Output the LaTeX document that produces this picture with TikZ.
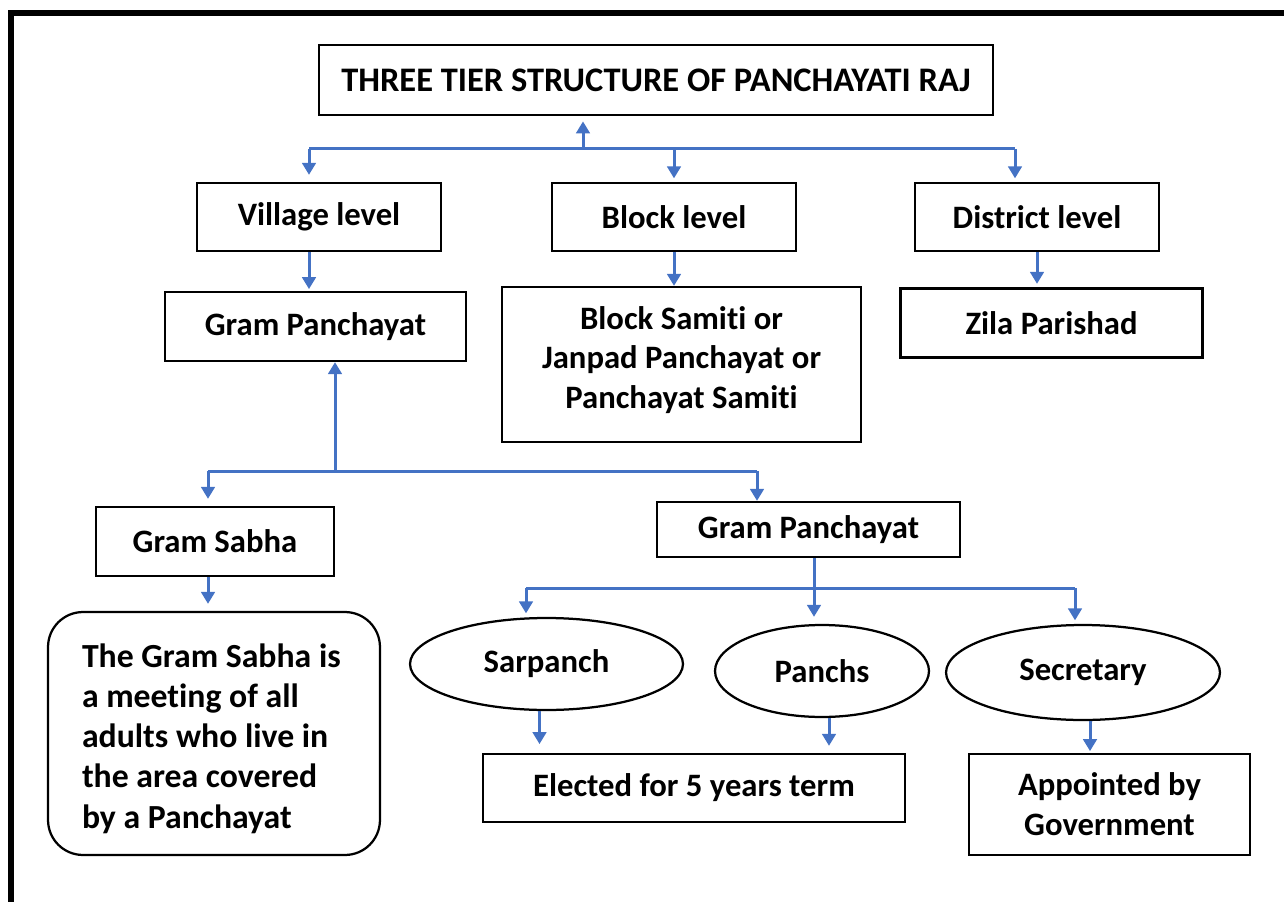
\documentclass[tikz,border=0pt]{standalone}
\usepackage{fontspec}
\setmainfont{Carlito}[Ligatures=NoCommon]
\usetikzlibrary{arrows.meta,shapes.geometric}
\definecolor{arrowblue}{RGB}{68,114,196}
\tikzset{
	box/.style={draw, line width=0.045cm, align=center, inner sep=0pt, font=\fontsize{18.6}{22.7}\selectfont\bfseries},
	oval/.style={box, ellipse},
	flow/.style={draw=arrowblue, line width=0.06cm},
	flowarrow/.style={flow, -{Triangle[width=0.27cm,length=0.24cm]}}
}
\begin{document}
\begin{tikzpicture}[x=0.02cm, y=-0.02cm]
			%%%%% START %%%%%
			\useasboundingbox (0,0) rectangle (1284,902);
			\draw[line width=0.12cm] (11,902) -- (11,13) -- (1284,13);
			
			\node[box, minimum width=13.48cm, minimum height=1.4cm, font=\fontsize{19.6}{23}\selectfont\bfseries] (title) at (656,80) {THREE TIER STRUCTURE OF PANCHAYATI RAJ};
			
			\node[box, minimum width=4.88cm, minimum height=1.36cm] (village) at (319,217) {Village level};
			\node[box, minimum width=4.88cm, minimum height=1.36cm] (block) at (674,217) {Block level};
			\node[box, minimum width=4.88cm, minimum height=1.36cm] (district) at (1037,217) {District level};
			
			\node[box, minimum width=6.02cm, minimum height=1.38cm] (gp1) at (315.5,326.5) {Gram Panchayat};
			\node[box, minimum width=7.18cm, minimum height=3.1cm] (samiti) at (681.5,364.5) {Block Samiti or\\Janpad Panchayat or\\Panchayat Samiti\rule[-8pt]{0pt}{0pt}};
			\node[box, minimum width=6.04cm, minimum height=1.38cm] (zila) at (1051.5,323) {Zila Parishad};
			
			\node[box, minimum width=4.76cm, minimum height=1.38cm] (gsabha) at (215,541.5) {Gram Sabha};
			\node[box, minimum width=6.06cm, minimum height=1.1cm] (gp2) at (808.5,529.5) {Gram Panchayat};
			
			\node[box, rounded corners=0.7cm, align=flush left, text width=5.28cm, minimum width=6.64cm, minimum height=4.86cm, font=\fontsize{19.2}{22.9}\selectfont\bfseries] (sabhainfo) at (214,733.5) {\rule{0pt}{19pt}The Gram Sabha is\\a meeting of all\\adults who live in\\the area covered\\by a Panchayat};
			
			\node[oval, minimum width=5.46cm, minimum height=1.84cm] (sarpanch) at (546.5,664) {Sarpanch};
			\node[oval, minimum width=4.28cm, minimum height=1.84cm] (panchs) at (822,671) {Panchs};
			\node[oval, minimum width=5.48cm, minimum height=1.9cm] (secretary) at (1083,672.5) {Secretary};
			
			\node[box, minimum width=8.44cm, minimum height=1.36cm] (elected) at (694,788) {Elected for 5 years term};
			\node[box, minimum width=5.62cm, minimum height=2.02cm] (appointed) at (1109.5,804.5) {Appointed by\\Government};
			
			% top tier
			\coordinate (topbus) at (583,149);
			\coordinate (busleft) at (309,149);
			\coordinate (busright) at (1015,149);
			\draw[flow] (busleft) -- (busright);
			\draw[flowarrow, shorten >=3pt] (topbus) -- (topbus |- title.south);
			\draw[flowarrow, shorten >=4pt] (busleft) -- (busleft |- village.north);
			\draw[flowarrow, shorten >=2pt] (block.north |- topbus) -- (block.north);
			\draw[flowarrow, shorten >=2pt] (busright) -- (busright |- district.north);
			
			\draw[flowarrow, shorten >=1pt] (village.south -| busleft) -- (gp1.north -| busleft);
			\draw[flowarrow] (block.south) -- (block.south |- samiti.north);
			\draw[flowarrow, shorten >=2pt] (district.south) -- (district.south |- zila.north);
			
			% gram panchayat
			\coordinate (midbus) at (335,471);
			\coordinate (sabhabus) at (208,471);
			\coordinate (gpbus) at (757,471);
			\draw[flow] (sabhabus) -- (gpbus);
			\draw[flowarrow] (midbus) -- (midbus |- gp1.south);
			\draw[flowarrow, shorten >=4pt] (sabhabus) -- (sabhabus |- gsabha.north);
			\draw[flowarrow] (gpbus) -- (gpbus |- gp2.north);
			\draw[flowarrow, shorten >=4pt] (gsabha.south -| sabhabus) -- (sabhabus |- sabhainfo.north);
			
			\coordinate (lowbus) at (814,588);
			\coordinate (lowleft) at (526,588);
			\coordinate (lowright) at (1075,588);
			\draw[flow] (lowleft) -- (lowright);
			\draw[flowarrow, shorten >=4pt] (gp2.south -| lowbus) -- (lowbus |- panchs.north);
			\draw[flowarrow, shorten >=2pt] (lowleft) -- (lowleft |- sarpanch.north);
			\draw[flowarrow, shorten >=2pt] (lowright) -- (lowright |- secretary.north);
			
			\draw[flowarrow, shorten >=5pt] ([xshift=-0.14cm]sarpanch.south) -- ([xshift=-0.14cm]sarpanch.south |- elected.north);
			\draw[flowarrow, shorten >=4pt] ([xshift=0.14cm]panchs.south) -- ([xshift=0.14cm]panchs.south |- elected.north);
			\draw[flowarrow, shorten >=1pt] ([xshift=0.14cm]secretary.south) -- ([xshift=0.14cm]secretary.south |- appointed.north);
			%%%%% END %%%%%
\end{tikzpicture}
\end{document}
